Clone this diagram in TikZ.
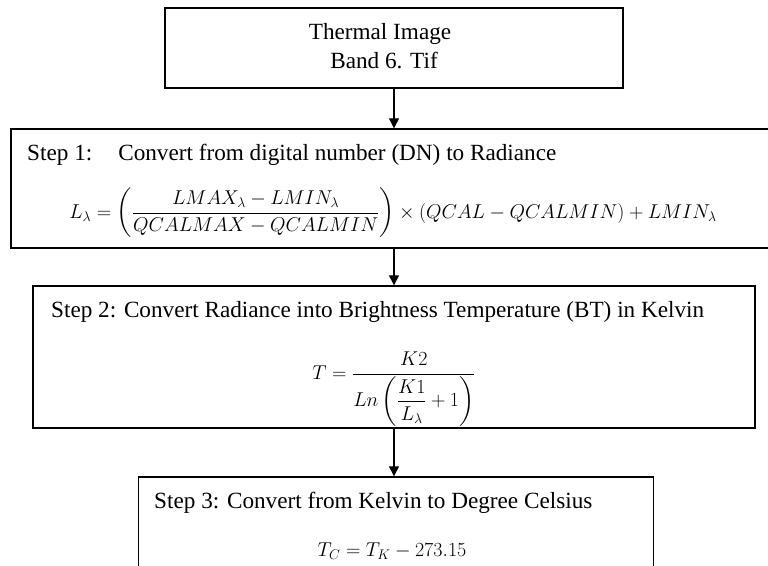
\RequirePackage{fix-cm}
\documentclass[tikz,border=0pt]{standalone}
\usepackage{amsmath}
\usepackage{fontspec}
\setmainfont{Liberation Serif}
\usepackage{tikz}
\usetikzlibrary{arrows.meta,positioning}

\begin{document}
\begin{tikzpicture}[x=1pt,y=-1pt,
  frame/.style={draw=black,line width=1.4pt,inner sep=0pt},
  txt/.style={inner sep=0pt,font=\fontsize{23.2}{28}\selectfont},
  eqn/.style={inner sep=0pt,font=\fontsize{20}{24}\selectfont},
  flow/.style={-{Triangle[width=10pt,length=10pt]},line width=1.2pt},
]
\useasboundingbox (0,0) rectangle (768,565);
\clip (0,0) rectangle (768,565);
\node[frame,minimum width=458pt,minimum height=80pt] (img) at (394,48) {};
\node[frame,minimum width=766pt,minimum height=119pt] (rad) at (394,188.5) {};
\node[frame,minimum width=722pt,minimum height=142pt] (bt) at (394,357) {};
\node[frame,minimum width=515pt,minimum height=160pt] (cel) at (396,557) {};
\node[txt,anchor=base] (imgA) at (380,39) {Thermal Image};
\node[txt,anchor=base] (imgB) at (384,68) {Band 6. Tif};
\node[txt,anchor=base west] (radT) at (27,160) {Step 1:\hspace{26pt}Convert from digital number (DN) to Radiance};
\node[eqn,anchor=base] (radF) at (393,218)
  {$\displaystyle L_\lambda = \left(\frac{LMAX_\lambda - LMIN_\lambda}{QCALMAX - QCALMIN}\right)\times (QCAL - QCALMIN) + LMIN_\lambda$};
\node[txt,anchor=base west] (btT) at (51,317) {Step 2: Convert Radiance into Brightness Temperature (BT) in Kelvin};
\node[eqn,anchor=base] (btF) at (394,379)
  {$\displaystyle T = \frac{K2}{Ln\left(\dfrac{K1}{L_\lambda} + 1\right)}$};
\node[txt,anchor=base west] (celT) at (154,508) {Step 3: Convert from Kelvin to Degree Celsius};
\node[eqn,anchor=base] (celF) at (392,556) {$T_C = T_K - 273.15$};
\foreach \a/\b in {img/rad,rad/bt,bt/cel}
  \draw[flow] (\a.south -| img.south) -- (\b.north -| img.south);
\end{tikzpicture}
\end{document}
